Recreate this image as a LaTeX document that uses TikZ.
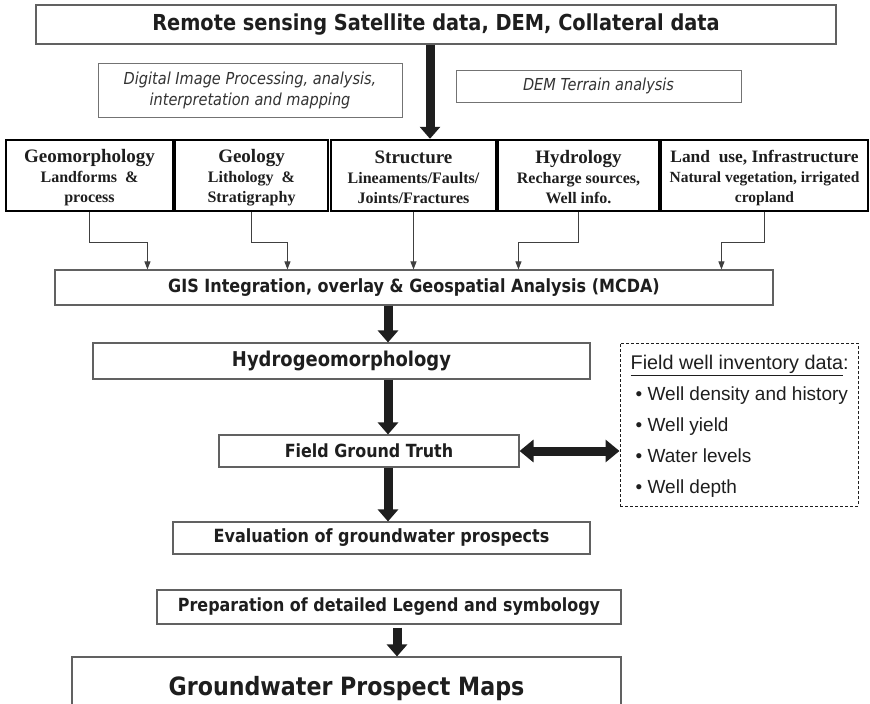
\documentclass[tikz,border=0pt]{standalone}
\usepackage{fontspec}
\setmainfont{Liberation Serif}
\newfontfamily\tah[FakeStretch=0.88]{DejaVu Sans}
\newfontfamily\ari{Liberation Sans}
\usetikzlibrary{arrows.meta}
\definecolor{ink}{HTML}{1E1E1E}
\newcommand\rowlift{\rule{0pt}{17pt}}
\begin{document}
\begin{tikzpicture}[x=1pt,y=-1pt,
  plainbox/.style={draw=black!62, line width=1.1pt, fill=white, inner sep=0pt, text=ink, align=center},
  sanstitle/.style={plainbox, font=\tah\bfseries},
  notebox/.style={draw=black!55, line width=0.9pt, inner sep=0pt, align=center, text=black!80,
    font=\tah\itshape\fontsize{16.5}{21}\selectfont},
  rowbox/.style={draw=black, line width=2.4pt, inner sep=0pt, align=center, text=ink,
    font=\fontsize{16}{20}\selectfont\bfseries, minimum height=71pt},
  big/.style={line width=9pt, ink, -{Triangle[width=20pt,length=12pt]}},
  bigboth/.style={line width=9pt, ink, {Triangle[width=22pt,length=14pt]}-{Triangle[width=22pt,length=14pt]}},
  conn/.style={line width=1pt, black!75, -{Triangle[width=6pt,length=8pt]}},
  welltext/.style={anchor=base west, inner sep=0pt, text=ink, font=\ari\fontsize{19}{23}\selectfont}
]
\useasboundingbox (0,0) rectangle (870,704);

% top source box
\node[sanstitle, minimum width=800pt, minimum height=39pt, font=\tah\bfseries\fontsize{22}{26}\selectfont]
  (top) at (436,24.5) {Remote sensing Satellite data, DEM, Collateral data};

% italic note boxes
\node[notebox, minimum width=304pt, minimum height=54pt] (ib1) at (250,90)
  {Digital Image Processing, analysis,\\interpretation and mapping};
\node[notebox, minimum width=285pt, minimum height=32pt] (ib2) at (598.5,86)
  {DEM Terrain analysis};

% row of thematic boxes
\node[rowbox, minimum width=167pt] (geo) at (89.5,175.5)
  {\rowlift{\fontsize{19}{20}\selectfont Geomorphology}\\Landforms \ \&\\process};
\node[rowbox, minimum width=153pt] (geol) at (251.5,175.5)
  {\rowlift{\fontsize{19}{20}\selectfont Geology}\\Lithology \ \&\\Stratigraphy};
\node[rowbox, minimum width=165pt] (str) at (413.5,175.5)
  {\rowlift{\fontsize{19}{20}\selectfont Structure}\\Lineaments/Faults/\\Joints/Fractures};
\node[rowbox, minimum width=161pt] (hyd) at (578.5,175.5)
  {\rowlift{\fontsize{19}{20}\selectfont Hydrology}\\Recharge sources,\\Well info.};
\node[rowbox, minimum width=207pt, font=\fontsize{15.5}{20}\selectfont\bfseries] (land) at (764.5,175.5)
  {\rowlift{\fontsize{17.4}{20}\selectfont Land \ use, Infrastructure}\\Natural vegetation, irrigated\\cropland};

% GIS integration box
\node[sanstitle, minimum width=718pt, minimum height=35pt, font=\tah\bfseries\fontsize{18.2}{22}\selectfont]
  (gis) at (414,287.5) {GIS Integration, overlay \& Geospatial Analysis (MCDA)};

% main chain
\node[sanstitle, minimum width=497pt, minimum height=36pt, font=\tah\bfseries\fontsize{20.4}{24}\selectfont]
  (hydro) at (341.5,361) {Hydrogeomorphology};
\node[sanstitle, minimum width=300pt, minimum height=32pt, font=\tah\bfseries\fontsize{18.1}{22}\selectfont]
  (fgt) at (369,451) {Field Ground Truth};
\node[sanstitle, minimum width=417pt, minimum height=32pt, font=\tah\bfseries\fontsize{18.2}{22}\selectfont]
  (eval) at (381.5,538) {Evaluation of groundwater prospects};
\node[sanstitle, minimum width=464pt, minimum height=34pt, font=\tah\bfseries\fontsize{18.1}{22}\selectfont]
  (prep) at (389,607) {Preparation of detailed Legend and symbology};
\node[sanstitle, minimum width=549pt, minimum height=63pt, font=\tah\bfseries\fontsize{25.2}{30}\selectfont]
  (final) at (346.5,688.5) {Groundwater Prospect Maps};

% field well inventory box
\node[draw=ink, dashed, dash pattern=on 3pt off 2pt, line width=1pt, minimum width=238pt, minimum height=163pt, inner sep=0pt]
  (well) at (739,424.5) {};
\node[welltext, font=\ari\fontsize{19.8}{23}\selectfont] (wh) at ([xshift=11pt,yshift=-27pt]well.north west) {\underline{Field well inventory data}:};
\node[welltext] (w1) at ([xshift=16pt,yshift=-58pt]well.north west) {• Well density and history};
\node[welltext] (w2) at ([xshift=16pt,yshift=-89pt]well.north west) {• Well yield};
\node[welltext] (w3) at ([xshift=16pt,yshift=-120pt]well.north west) {• Water levels};
\node[welltext] (w4) at ([xshift=16pt,yshift=-151pt]well.north west) {• Well depth};

% column coordinates for the thick arrows
\coordinate (a1) at (430,0);
\coordinate (a2) at (388,0);
\coordinate (a3) at (397,0);

% thick arrows
\draw[big] (top.south -| a1) -- (str.north -| a1);
\draw[big] (gis.south -| a2) -- (hydro.north -| a2);
\draw[big] (hydro.south -| a2) -- (fgt.north -| a2);
\draw[big] (fgt.south -| a2) -- (eval.north -| a2);
\draw[big] ([yshift=-3pt]prep.south -| a3) -- (final.north -| a3);
\draw[bigboth] (fgt.east) -- (fgt.east -| well.west);

% thin connectors into the GIS box
\draw[conn] (geo.south) -- ++(0,30) -| ([xshift=93pt]gis.north west);
\draw[conn] (geol.south) -- ++(0,30) -| ([xshift=233pt]gis.north west);
\draw[conn] (str.south) -- (str.south |- gis.north);
\draw[conn] (hyd.south) -- ++(0,30) -| ([xshift=464pt]gis.north west);
\draw[conn] (land.south) -- ++(0,30) -| ([xshift=667pt]gis.north west);
\end{tikzpicture}
\end{document}
